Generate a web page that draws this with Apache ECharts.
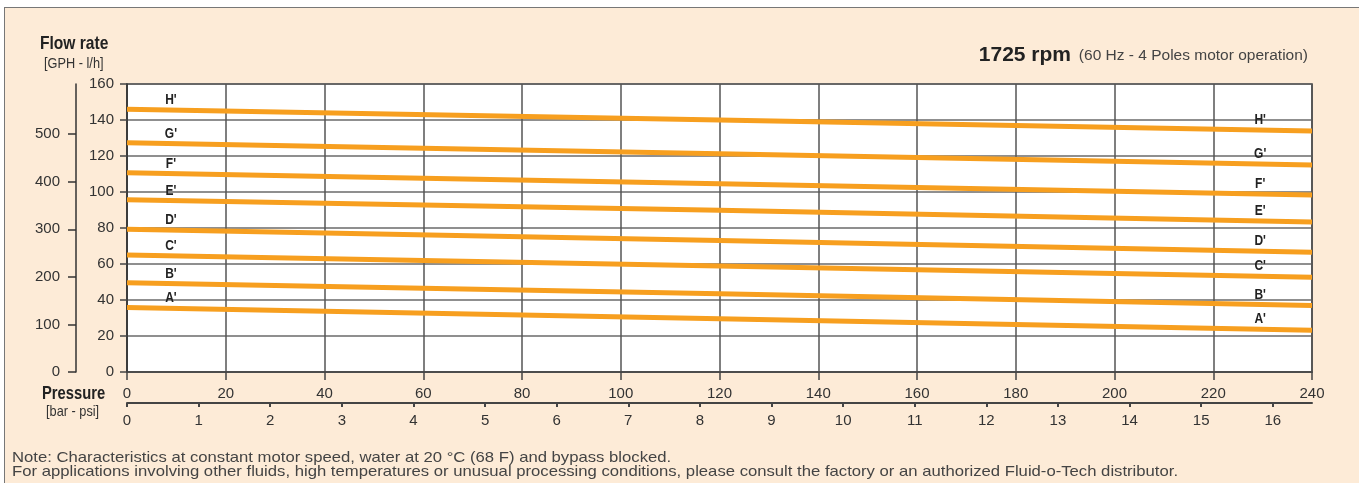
<!DOCTYPE html>
<html>
<head>
<meta charset="utf-8">
<script src="https://cdn.jsdelivr.net/npm/echarts@6/dist/echarts.min.js"></script>
<style>
  html, body { margin: 0; padding: 0; background: #ffffff; width: 1359px; height: 483px; overflow: hidden; }
  #frame { position: absolute; left: 4px; top: 7px; width: 1400px; height: 500px; border-left: 1.5px solid #777; border-top: 1.5px solid #777; background: #fdebd7; }
  #chart { position: absolute; left: 0; top: 0; width: 1359px; height: 483px; }
</style>
</head>
<body>
<div id="frame"></div>
<div id="chart"></div>
<script>
// Pressure (psi) sample points
const pressurePsi = [0, 120, 240];
// Flow rate (GPH) curves
const seriesNames = ["A'", "B'", "C'", "D'", "E'", "F'", "G'", "H'"];
const curveA = [35.9, 29.6, 23.2];
const curveB = [49.6, 43.5, 37.0];
const curveC = [65.0, 58.9, 52.6];
const curveD = [79.3, 73.0, 66.5];
const curveE = [95.7, 89.8, 83.3];
const curveF = [110.7, 104.6, 98.3];
const curveG = [127.4, 121.3, 115.0];
const curveH = [146.0, 140.0, 133.9];
const curves = [curveA, curveB, curveC, curveD, curveE, curveF, curveG, curveH];
// where the curve name labels sit (psi)
const labelPsi = [8.9, 229.5];
// tick labels
const psiTicks = [0, 20, 40, 60, 80, 100, 120, 140, 160, 180, 200, 220, 240];
const barTicks = [0, 1, 2, 3, 4, 5, 6, 7, 8, 9, 10, 11, 12, 13, 14, 15, 16];
const gphTicks = [0, 20, 40, 60, 80, 100, 120, 140, 160];
const lhTicks = [0, 100, 200, 300, 400, 500];
const PSI_PER_BAR = 14.5038;
const LH_PER_GPH = 3.78541;

const REG = "'Liberation Sans', Arial, Helvetica, sans-serif";
const lineColor = '#f79f1f';
const NARROW_SCALE = 0.82;

function interp(xs, ys, x) {
  for (let i = 0; i < xs.length - 1; i++) {
    if (x >= xs[i] && x <= xs[i + 1]) {
      const t = (x - xs[i]) / (xs[i + 1] - xs[i]);
      return ys[i] + t * (ys[i + 1] - ys[i]);
    }
  }
  return ys[ys.length - 1];
}

const series = curves.map((c, i) => ({
  type: 'line',
  name: seriesNames[i],
  xAxisIndex: 0, yAxisIndex: 0,
  data: pressurePsi.map((p, j) => [p, c[j]]),
  symbol: 'none',
  silent: true,
  lineStyle: { color: lineColor, width: 5 },
  z: 3
}));

function txt(id, text, x, y, font, fill, align, scale) {
  return {
    type: 'text', id: id, x: x, y: y, scaleX: scale || 1, scaleY: 1, z: 10,
    style: { text: text, font: font, fill: fill, textAlign: align || 'left', textVerticalAlign: 'middle' }
  };
}

const staticGraphics = [
  txt('t1', 'Flow rate', 40, 44, 'bold 19px ' + REG, '#222', 'left', NARROW_SCALE),
  txt('t2', '[GPH - l/h]', 44, 64, '15px ' + REG, '#333', 'left', 0.85),
  txt('t3', '1725 rpm', 1071, 55, 'bold 21px ' + REG, '#222', 'right'),
  txt('t4', '(60 Hz - 4 Poles motor operation)', 1308, 56, '15.5px ' + REG, '#444', 'right'),
  txt('t5', 'Pressure', 42, 394, 'bold 18px ' + REG, '#222', 'left', NARROW_SCALE),
  txt('t6', '[bar - psi]', 46, 412, '15px ' + REG, '#333', 'left', 0.85),
  txt('t7', 'Note: Characteristics at constant motor speed, water at 20 °C (68 F) and bypass blocked.', 12, 458, '14.5px ' + REG, '#444', 'left', 1.15),
  txt('t8', 'For applications involving other fluids, high temperatures or unusual processing conditions, please consult the factory or an authorized Fluid-o-Tech distributor.', 12, 472, '14.5px ' + REG, '#444', 'left', 1.15)
];

const axisFont = { color: '#333', fontFamily: REG, fontSize: 15 };

const chart = echarts.init(document.getElementById('chart'), null, { renderer: 'canvas' });
chart.setOption({
  backgroundColor: 'transparent',
  animation: false,
  grid: {
    left: 127, right: 47, top: 84, bottom: 111,
    show: true, backgroundColor: '#ffffff', borderColor: '#333', borderWidth: 1.5
  },
  xAxis: [
    {
      type: 'value', min: 0, max: 240, interval: 20, position: 'bottom',
      axisLine: { show: true, lineStyle: { color: '#444', width: 1.5 } },
      axisTick: { show: true, length: 8, lineStyle: { color: '#444', width: 1.5 } },
      splitLine: { show: true, lineStyle: { color: '#555', width: 1.5 } },
      axisLabel: Object.assign({ margin: 14, customValues: psiTicks }, axisFont)
    },
    {
      type: 'value', min: 0, max: 240 / PSI_PER_BAR, position: 'bottom', offset: 31,
      axisLine: { show: true, onZero: false, lineStyle: { color: '#444', width: 2 } },
      axisTick: { show: true, length: 4, lineStyle: { color: '#444', width: 2 }, customValues: barTicks },
      splitLine: { show: false },
      axisLabel: Object.assign({ margin: 10, customValues: barTicks }, axisFont)
    }
  ],
  yAxis: [
    {
      type: 'value', min: 0, max: 160, interval: 20, position: 'left',
      axisLine: { show: true, lineStyle: { color: '#333', width: 1.5 } },
      axisTick: { show: true, length: 7, lineStyle: { color: '#444', width: 1.5 } },
      splitLine: { show: true, lineStyle: { color: '#6a6a6a', width: 1.5 } },
      axisLabel: Object.assign({ margin: 13, customValues: gphTicks }, axisFont)
    },
    {
      type: 'value', min: 0, max: 160 * LH_PER_GPH, position: 'left', offset: 51,
      axisLine: { show: true, onZero: false, lineStyle: { color: '#333', width: 1.5 } },
      axisTick: { show: true, length: 8, lineStyle: { color: '#333', width: 1.5 }, customValues: lhTicks },
      splitLine: { show: false },
      axisLabel: Object.assign({ margin: 16, customValues: lhTicks }, axisFont)
    }
  ],
  graphic: staticGraphics,
  series: series
});

// curve name labels, positioned through the chart's own scales
const labelGraphics = [];
curves.forEach((c, i) => {
  labelPsi.forEach((p, k) => {
    const pt = chart.convertToPixel({ gridIndex: 0 }, [p, interp(pressurePsi, c, p)]);
    labelGraphics.push(txt('lbl' + i + '_' + k, seriesNames[i], pt[0], pt[1] - 10,
      'bold 15px ' + REG, '#222', 'center', 0.8));
  });
});
chart.setOption({ graphic: staticGraphics.concat(labelGraphics) });
</script>
</body>
</html>
